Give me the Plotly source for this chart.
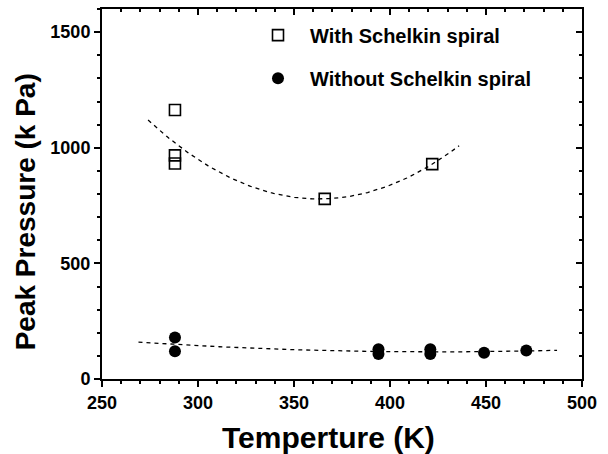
import numpy as np
import plotly.graph_objects as go

# Data
with_T = [288, 288, 288, 366, 422]
with_P = [1163, 967, 932, 779, 929]
without_T = [288, 288, 394, 394, 421, 421, 449, 471]
without_P = [179, 120, 129, 108, 129, 108, 114, 123]

with_fit_range = [274, 436]
without_fit_range = [269, 487]

x_ticks = [250, 300, 350, 400, 450, 500]
y_ticks = [0, 500, 1000, 1500]

FONT = "Liberation Sans, Arial, sans-serif"

# quadratic fits of the data (trend lines)
cw = np.polyfit(with_T, with_P, 2)
co = np.polyfit(without_T, without_P, 2)
xw = np.linspace(with_fit_range[0], with_fit_range[1], 120)
xo = np.linspace(without_fit_range[0], without_fit_range[1], 120)

fig = go.Figure()
fig.add_trace(go.Scatter(x=xw, y=np.polyval(cw, xw), mode="lines",
                         line=dict(color="black", width=1.3, dash="4px,4px"),
                         showlegend=False, hoverinfo="skip"))
fig.add_trace(go.Scatter(x=xo, y=np.polyval(co, xo), mode="lines",
                         line=dict(color="black", width=1.3, dash="4px,4px"),
                         showlegend=False, hoverinfo="skip"))
fig.add_trace(go.Scatter(x=with_T, y=with_P, mode="markers", name="With Schelkin spiral",
                         legendgroup="a",
                         marker=dict(symbol="square-open", size=11, color="black",
                                     line=dict(width=1.6, color="black"))))
fig.add_trace(go.Scatter(x=without_T, y=without_P, mode="markers", name="Without Schelkin spiral",
                         legendgroup="b",
                         marker=dict(symbol="circle", size=12, color="black")))
# invisible trace to host the mirrored top/right axes
fig.add_trace(go.Scatter(x=[None], y=[None], xaxis="x2", yaxis="y2", showlegend=False,
                         hoverinfo="skip"))

tickfont = dict(family=FONT, size=18, color="black", weight="bold")

fig.update_layout(
    width=608, height=454,
    margin=dict(l=102, r=26, t=9, b=75),
    plot_bgcolor="white", paper_bgcolor="white",
    showlegend=True,
    legend=dict(x=0.30, y=0.982, xanchor="left", yanchor="top",
                font=dict(family=FONT, size=20, color="black", weight="bold"),
                bgcolor="rgba(0,0,0,0)", tracegroupgap=14, itemwidth=54,
                traceorder="grouped"),
    xaxis=dict(range=[250, 500], tickvals=x_ticks, ticks="outside", ticklen=6, tickwidth=2,
               tickcolor="black", showline=True, linewidth=2, linecolor="black",
               showgrid=False, zeroline=False, tickfont=tickfont,
               minor=dict(dtick=10, ticks="outside", ticklen=3, tickwidth=1.5,
                          tickcolor="black", showgrid=False)),
    yaxis=dict(range=[0, 1600], tickvals=y_ticks, ticks="outside", ticklen=6, tickwidth=2,
               tickcolor="black", showline=True, linewidth=2, linecolor="black",
               showgrid=False, zeroline=False, tickfont=tickfont,
               minor=dict(dtick=100, ticks="outside", ticklen=3, tickwidth=1.5,
                          tickcolor="black", showgrid=False)),
    xaxis2=dict(range=[250, 500], overlaying="x", side="top", anchor="y",
                tickvals=x_ticks, ticks="inside", ticklen=6, tickwidth=2, tickcolor="black",
                showticklabels=False, showline=True, linewidth=2, linecolor="black",
                showgrid=False, zeroline=False,
                minor=dict(dtick=10, ticks="inside", ticklen=3, tickwidth=1.5,
                           tickcolor="black", showgrid=False)),
    yaxis2=dict(range=[0, 1600], overlaying="y", side="right", anchor="x",
                tickvals=y_ticks, ticks="inside", ticklen=6, tickwidth=2, tickcolor="black",
                showticklabels=False, showline=True, linewidth=2, linecolor="black",
                showgrid=False, zeroline=False,
                minor=dict(dtick=100, ticks="inside", ticklen=3, tickwidth=1.5,
                           tickcolor="black", showgrid=False)),
    annotations=[
        dict(text="Temperture (K)", xref="paper", yref="paper", x=0.471, y=-0.157,
             xanchor="center", yanchor="middle", showarrow=False,
             font=dict(family=FONT, size=30, color="black", weight="bold")),
        dict(text="Peak Pressure (k Pa)", xref="paper", yref="paper", x=-0.160, y=0.451,
             xanchor="center", yanchor="middle", showarrow=False, textangle=-90,
             font=dict(family=FONT, size=28, color="black", weight="bold")),
    ],
)

fig.write_html("out.html")
